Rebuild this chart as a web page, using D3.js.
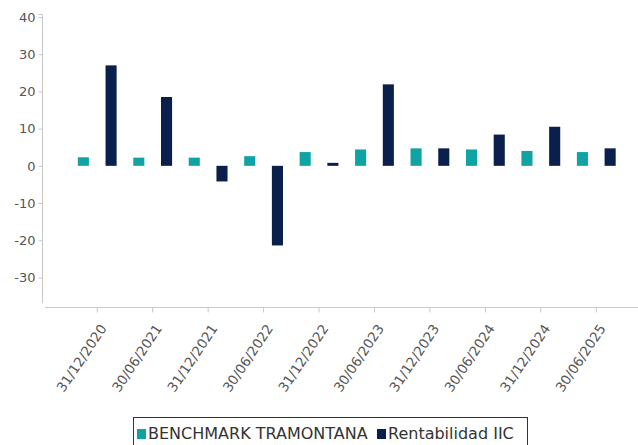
<!DOCTYPE html>
<html><head><meta charset="utf-8">
<script src="https://cdn.jsdelivr.net/npm/d3@7"></script>
<style>body{margin:0;background:#fff;} svg{display:block;font-family:"DejaVu Sans",sans-serif;}</style>
</head><body>
<svg id="c" width="638" height="445"></svg>
<script>
const categories = ["31/12/2020","30/06/2021","31/12/2021","30/06/2022","31/12/2022","30/06/2023","31/12/2023","30/06/2024","31/12/2024","30/06/2025"];
const seriesNames = ["BENCHMARK TRAMONTANA","Rentabilidad IIC"];
const benchmark = [2.3, 2.2, 2.2, 2.6, 3.7, 4.4, 4.7, 4.4, 4.0, 3.7];
const rentabilidad = [27.0, 18.5, -4.2, -21.4, 0.8, 21.9, 4.7, 8.4, 10.5, 4.7];
const yTicks = [40,30,20,10,0,-10,-20,-30];
const colors = ["#10a3a3","#0b1f4d"];

const svg = d3.select("#c");
const y = d3.scaleLinear().domain([-37, 40]).range([303.5, 17]);
const x = d3.scaleBand().domain(categories).range([69.5, 624]).padding(0);
const x1 = d3.scaleBand().domain(seriesNames).range([0, x.bandwidth()]).paddingInner(0.6).paddingOuter(0.3);

// axes
const yAxis = svg.append("g").attr("transform","translate(42.5,0)")
  .call(d3.axisLeft(y).tickValues(yTicks).tickSize(4).tickPadding(3).tickFormat(d => String(d)));
yAxis.select(".domain").attr("stroke","#c8c8c8").attr("d","M-4,14.5H0V303");
yAxis.selectAll(".tick line").attr("stroke","#c8c8c8");
yAxis.selectAll(".tick text").attr("fill","#555").style("font-size","13px").style("font-family","DejaVu Sans");

const xAxis = svg.append("g").attr("transform","translate(0,307.5)")
  .call(d3.axisBottom(x).tickSize(5).tickSizeOuter(0));
xAxis.select(".domain").attr("stroke","#c8c8c8").attr("d","M45,0H638");
xAxis.selectAll(".tick line").attr("stroke","#c8c8c8");
xAxis.selectAll(".tick text")
  .attr("fill","#555").style("font-size","13.5px").style("font-family","DejaVu Sans")
  .attr("text-anchor","end").attr("dy","0")
  .attr("transform","translate(10,21) rotate(-56)").attr("y",0).attr("x",0);

// bars
const data = [benchmark, rentabilidad];
data.forEach((vals, si) => {
  svg.append("g").selectAll("rect").data(vals).join("rect")
    .attr("x", (d,i) => x(categories[i]) + x1(seriesNames[si]))
    .attr("width", x1.bandwidth())
    .attr("y", d => y(Math.max(0,d)))
    .attr("height", d => Math.abs(y(d) - y(0)))
    .attr("fill", colors[si]);
});

// legend
const lg = svg.append("g");
lg.append("rect").attr("x",133.5).attr("y",417.5).attr("width",394).attr("height",30)
  .attr("fill","#fff").attr("stroke","#333");
const items = [{n:seriesNames[0],x:137},{n:seriesNames[1],x:377}];
items.forEach((it,i)=>{
  lg.append("rect").attr("x",it.x).attr("y",429).attr("width",9).attr("height",10).attr("fill",colors[i]);
  lg.append("text").attr("x",it.x+11).attr("y",439).text(it.n)
    .style("font-size","16px").attr("fill","#333");
});
</script>
</body></html>
